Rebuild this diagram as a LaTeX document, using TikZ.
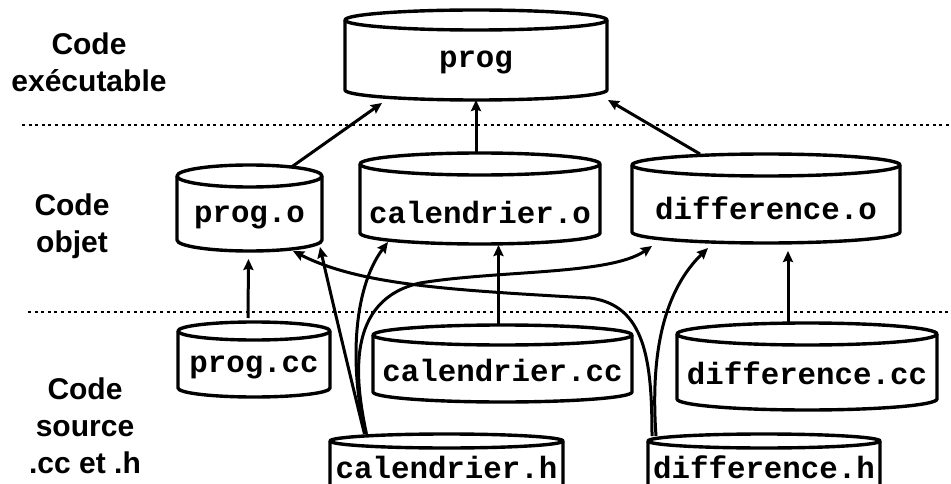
\documentclass[tikz,border=0pt]{standalone}
\usepackage{fontspec}
\setmainfont{Liberation Sans}
\setmonofont{Liberation Mono}
\usetikzlibrary{arrows.meta,calc}

\tikzset{
  cylbody/.style={draw=none,inner sep=0pt,outer sep=0pt},
  cylline/.style={line width=3.4pt,line join=round},
  cyltext/.style={inner sep=0pt,font=\ttfamily\bfseries\fontsize{30.8}{36}\selectfont},
  lvl/.style={align=center,inner sep=0pt,font=\bfseries\fontsize{30}{37}\selectfont},
  sepline/.style={line width=2.8pt,dash pattern=on 3pt off 3.6pt},
  arr/.style={line width=3pt,-{Stealth[length=11pt,width=10pt,inset=1.5pt]}},
}

\newcommand\cylshape[8]{%
  \pgfmathsetmacro\cR{(#3-#2)/2}%
  \pgfmathsetmacro\cX{(#3+#2)/2}%
  \node[cylbody,minimum width={(#3-#2)*1pt},minimum height={(#5-#4+2*#6)*1pt},anchor=north west] (#1) at (#2,#4-#6) {};
  \fill[white] (#2,#4) -- (#2,#5) arc[start angle=180,end angle=360,x radius=\cR pt,y radius=#6pt] -- (#3,#4) arc[start angle=0,end angle=180,x radius=\cR pt,y radius=#6pt] -- cycle;
  \draw[cylline] (#2,#4) -- (#2,#5) arc[start angle=180,end angle=360,x radius=\cR pt,y radius=#6pt] -- (#3,#4);
  \draw[cylline] (\cX,#4) ellipse[x radius=\cR pt,y radius=#6pt];
  \node[cyltext] (#1-label) at (\cX,#7) {#8};
}

\begin{document}
\begin{tikzpicture}[x=1pt,y=-1pt]
\useasboundingbox (0,0) rectangle (951,484);

% level separators
\draw[sepline] (22,125) -- (951,125);
\draw[sepline] (28,312) -- (951,312);

% level labels
\node[lvl] (lexe) at (89,62) {Code\\exécutable};
\node[lvl] (lobj) at (72,226) {Code\\objet};
\node[lvl] (lsrc) at (85,426) {Code\\source\\.cc et .h};

% cylinders
\cylshape{prog}{345}{607}{20}{90}{10}{62}{prog}
\cylshape{progo}{177}{322}{176}{240}{11}{217}{prog.o}
\cylshape{calo}{360}{600}{164}{233}{11}{212}{calendrier.o}
\cylshape{diffo}{632}{900}{165}{232}{11}{208}{difference.o}
\cylshape{progcc}{178}{330}{331}{388}{9}{367}{prog.cc}
\cylshape{calcc}{373}{632}{335}{392}{10}{370}{calendrier.cc}
\cylshape{diffcc}{677}{937}{334}{399}{11}{373}{difference.cc}
\cylshape{calh}{330}{563}{441}{500}{7}{467}{calendrier.h}
\cylshape{diffh}{648}{880}{441}{500}{7}{467}{difference.h}

% object -> executable
\draw[arr] ($(progo.north)+(42,2)$) -- ($(prog.south)+(-94,3)$);
\draw[arr] (calo.north -| prog.south) -- (prog.south);
\draw[arr] ($(diffo.north)+(-66,0)$) -- ($(prog.south east)+(1,0)$);

% source -> object
\draw[arr] ($(progcc.north)+(-6,-4)$) -- ($(progo.south)+(-1,8)$);
\draw[arr] ($(calcc.north)+(-4,0)$) -- ($(calcc.north |- calo.south)+(-4,1)$);
\draw[arr] ($(diffcc.north)+(-19,-1)$) -- ($(diffcc.north |- diffo.south)+(-19,8)$);

% headers -> object files
\draw[arr] ($(calh.north)+(-82,0)$) .. controls (356,400) and (332,300) .. ($(progo.south east)+(-2,-4)$);
\draw[arr] ($(calh.north)+(-81,0)$) .. controls (350,370) and (352,290) .. ($(calo.south west)+(28,-2)$);
\draw[arr] ($(calh.north)+(-80,0)$) .. controls (355,380) and (345,300) .. (420,283) .. controls (500,270) and (610,275) .. ($(diffo.south west)+(20,3)$);
\draw[arr] ($(diffh.north)+(-112,2)$) .. controls (652,360) and (645,305) .. (590,298) .. controls (450,290) and (360,285) .. ($(progo.south east)+(-29,0)$);
\draw[arr] ($(diffh.north)+(-108,2)$) .. controls (650,350) and (665,290) .. ($(diffo.south)+(-58,5)$);
\end{tikzpicture}
\end{document}
